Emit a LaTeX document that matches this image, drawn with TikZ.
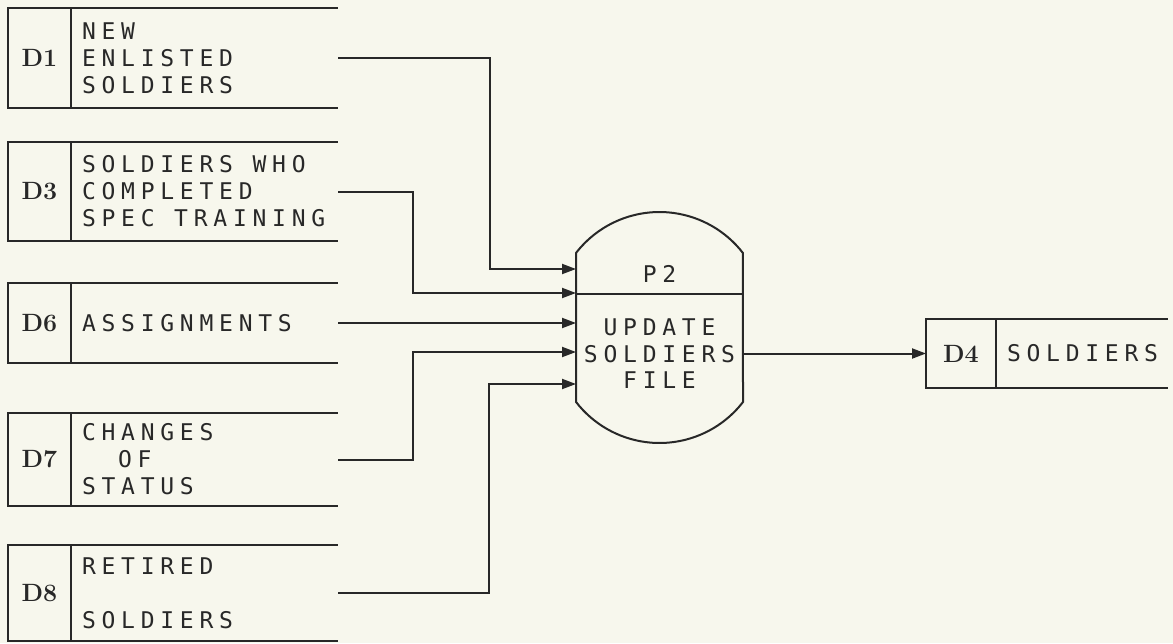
\documentclass[tikz,border=0pt]{standalone}
\usepackage{fontspec}
\usepackage{tikz}
\usetikzlibrary{arrows.meta, positioning}
\newfontfamily\plotfont[LetterSpace=25]{DejaVu Sans Mono}
\newcommand{\gap}{\hspace*{19.6pt}}
\definecolor{paper}{RGB}{247,247,237}
\definecolor{ink}{RGB}{40,40,40}

\begin{document}
\begin{tikzpicture}[x=1pt, y=1pt,
    storeid/.style={draw=ink, line width=2pt, minimum width=63pt, inner sep=0pt, outer sep=0pt, font=\fontsize{25}{25}\selectfont\bfseries, text=ink},
    storetxt/.style={align=left, text width=245pt, inner xsep=11pt, inner ysep=0pt, outer sep=0pt, font=\plotfont\fontsize{23}{27}\selectfont, text=ink},
    proc/.style={minimum width=167pt, inner sep=0pt, outer sep=0pt, align=center, font=\plotfont\fontsize{23}{26.5}\selectfont, text=ink},
    rim/.style={draw=ink, line width=2pt},
    flow/.style={-{Triangle[length=14pt, width=10pt]}, line width=2pt, draw=ink}
]
\fill[paper] (0,0) rectangle (1173,-643);
\useasboundingbox (0,0) rectangle (1173,-643);

\node[storeid, minimum height=100pt] (d1) at (39.5,-58) {D1};
\node[storetxt, minimum height=100pt, right=0pt of d1] (d1t) {NEW\\ENLISTED\\SOLDIERS};
\node[storeid, minimum height=99pt, below=34pt of d1] (d3) {D3};
\node[storetxt, minimum height=99pt, right=0pt of d3] (d3t) {SOLDIERS\gap WHO\\COMPLETED\\SPEC\gap TRAINING};
\node[storeid, minimum height=80pt, below=42pt of d3] (d6) {D6};
\node[storetxt, minimum height=80pt, right=0pt of d6] (d6t) {ASSIGNMENTS};
\node[storeid, minimum height=93pt, below=50pt of d6] (d7) {D7};
\node[storetxt, minimum height=93pt, right=0pt of d7] (d7t) {CHANGES\\\hspace*{36pt}OF\\STATUS};
\node[storeid, minimum height=96pt, below=39pt of d7] (d8) {D8};
\node[storetxt, minimum height=96pt, right=0pt of d8] (d8t) {RETIRED\\\mbox{}\\SOLDIERS};
\foreach \s in {d1,d3,d6,d7,d8} {
    \draw[rim] (\s.north east) -- (\s t.north east);
    \draw[rim] (\s.south east) -- (\s t.south east);
}

\node[proc, minimum height=41pt] (p2h) at (659.5,-273.5) {P2};
\node[proc, minimum height=108pt, below=0pt of p2h] (p2) {};
\node[proc] (p2txt) at ([yshift=-6pt]p2.center) {UPDATE\\SOLDIERS\\FILE};
\draw[rim] (p2h.north west) arc[start angle=142.3, end angle=37.7, radius=105.5]
    -- (p2.south east) arc[start angle=-37.7, end angle=-142.3, radius=105.5] -- cycle;
\draw[rim] (p2h.south west) -- (p2h.south east);

\node[storeid, minimum width=70pt, minimum height=69pt] (d4) at (961,-353.5) {D4};
\node[storetxt, text width=150pt, minimum height=69pt, right=0pt of d4] (d4t) {SOLDIERS};
\draw[rim] (d4.north east) -- (d4t.north east);
\draw[rim] (d4.south east) -- (d4t.south east);

\coordinate (in1) at (576,-269);
\coordinate (in2) at (576,-293);
\coordinate (in4) at (576,-352);
\coordinate (in5) at (576,-384);
\draw[flow] (d1t.east) -- ++(152,0) |- (in1);
\draw[flow] (d3t.east) -- ++(75,0) |- (in2);
\draw[flow] (d6t.east) -- (d6t.east -| p2.west);
\draw[flow] (d7t.east) -- ++(75,0) |- (in4);
\draw[flow] (d8t.east) -- ++(151,0) |- (in5);
\draw[flow] (d4.west -| p2.east) -- (d4.west);
\end{tikzpicture}
\end{document}
